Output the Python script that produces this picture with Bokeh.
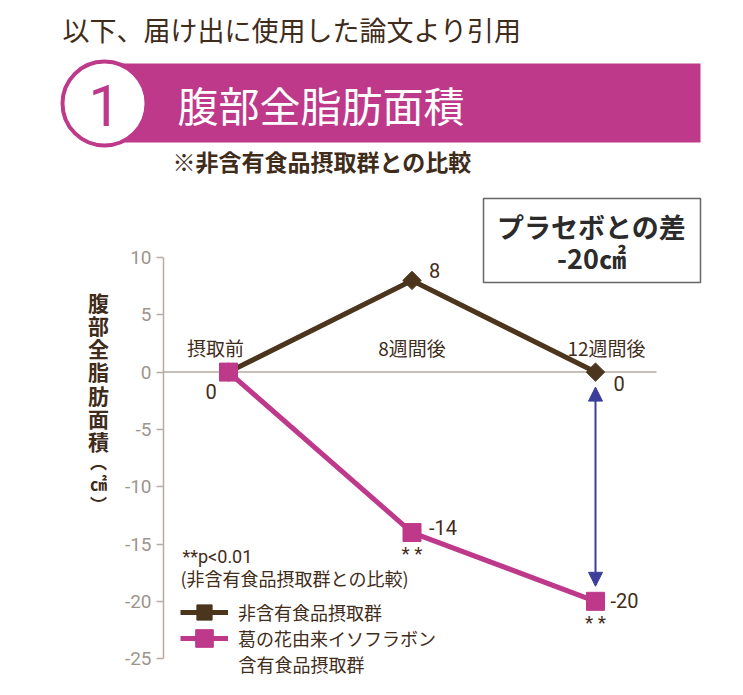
import numpy as np
from bokeh.plotting import figure
from bokeh.models import (Range1d, LinearAxis, FixedTicker, Label, Legend, LegendItem,
                          Arrow, NormalHead, BoxAnnotation, ColumnDataSource)
from bokeh.core.properties import value
from bokeh.embed import file_html
from bokeh.resources import INLINE

# ---------------- data ----------------
categories = ["摂取前", "8週間後", "12週間後"]
placebo = [0, 8, 0]            # 非含有食品摂取群
kudzu = [0, -14, -20]          # 葛の花由来イソフラボン含有食品摂取群
significance = ["", "**", "**"]
series_names = ["非含有食品摂取群", "葛の花由来イソフラボン"]
series2_line2 = "含有食品摂取群"
y_ticks = [10, 5, 0, -5, -10, -15, -20, -25]
y_axis_title = ["腹", "部", "全", "脂", "肪", "面", "積"]
y_axis_unit = ["︵", "㎠", "︶"]
header_note = "以下、届け出に使用した論文より引用"
section_no = "1"
section_title = "腹部全脂肪面積"
section_sub = "※非含有食品摂取群との比較"
p_note = ["**p<0.01", "(非含有食品摂取群との比較)"]
box_title = "プラセボとの差"

# ---------------- styles ----------------
BROWN = "#4b351c"
MAGENTA = "#be398a"
TEXT = "#3f2c1a"
AXIS = "#b6aba0"
TICK = "#9e958c"
BLUE = "#3d3e9a"
JP = value("Noto Sans CJK JP")
NUM = value("Roboto")

W, H = 735, 687
X0_IMG = 228      # pixel x of first category
X_STEP = 183.5    # px per category
ZERO_IMG = 371.6  # pixel y of value 0
Y_STEP = 11.46    # px per unit


def xd(px):
    return (px - X0_IMG) / X_STEP


def yd(py):
    return (ZERO_IMG - py) / Y_STEP


p = figure(width=W, height=H, x_range=Range1d(xd(0), xd(W)), y_range=Range1d(yd(H), yd(0)),
           output_backend="svg", toolbar_location=None, min_border=0,
           x_axis_location=None, y_axis_location=None)
p.outline_line_color = None
p.xgrid.visible = False
p.ygrid.visible = False
p.extra_x_ranges = {"px": Range1d(0, W)}
p.extra_y_ranges = {"py": Range1d(H, 0)}
hp = dict(x_range_name="px", y_range_name="py")

# ---------------- header ----------------
p.text(x=[62], y=[29], text=[header_note], text_font=JP, text_font_size="27px",
       text_color=TEXT, text_baseline="middle", text_align="left", **hp)
p.quad(left=[104], right=[700], top=[63], bottom=[142], fill_color=MAGENTA, line_color=None, **hp)
p.ellipse(x=[104], y=[103], width=[84], height=[84], fill_color="white",
          line_color=MAGENTA, line_width=4, **hp)
p.text(x=[104], y=[105], text=[section_no], text_font=NUM, text_font_size="57px",
       text_color=MAGENTA, text_baseline="middle", text_align="center", **hp)
p.text(x=[177], y=[103], text=[section_title], text_font=JP, text_font_size="41px",
       text_color="white", text_baseline="middle", text_align="left", **hp)
p.text(x=[172], y=[160], text=[section_sub], text_font=JP, text_font_size="23px",
       text_font_style="bold", text_color=TEXT, text_baseline="middle", text_align="left", **hp)

# ---------------- chart ----------------
ax = LinearAxis(fixed_location=xd(163), bounds=(min(y_ticks), max(y_ticks)),
                ticker=FixedTicker(ticks=y_ticks),
                major_label_overrides={t: str(t) for t in y_ticks},
                major_tick_out=7, major_tick_in=0, minor_tick_out=0, minor_tick_in=0,
                axis_line_color=AXIS, axis_line_width=1.5,
                major_tick_line_color=AXIS, major_tick_line_width=1.5,
                major_label_text_color=TICK, major_label_text_font="Roboto",
                major_label_text_font_size="19px", major_label_standoff=5)
p.add_layout(ax, "left")

# zero reference line
p.segment(x0=[xd(163)], x1=[xd(656)], y0=[0], y1=[0], line_color=AXIS, line_width=1.5)

xs = list(range(len(categories)))

r1l = p.line(xs, placebo, line_width=5, line_color=BROWN)
r1s = p.scatter(xs, placebo, marker="square", angle=np.pi / 4, size=13,
                fill_color=BROWN, line_color=BROWN)
r2l = p.line(xs, kudzu, line_width=5, line_color=MAGENTA)
r2s = p.scatter(xs, kudzu, marker="square", size=18, fill_color=MAGENTA, line_color=MAGENTA)

# category labels
cat_src = ColumnDataSource(dict(x=xs, y=[0] * len(xs), text=categories, dx=[-13, 0, 11]))
p.text(x="x", y="y", text="text", x_offset="dx", y_offset=-25, source=cat_src,
       text_font=JP, text_font_size="19px", text_color=TEXT,
       text_align="center", text_baseline="middle")

# value labels
lx, ly, lt, ldx, ldy = [], [], [], [], []
for i, v in enumerate(kudzu):
    lx.append(i); ly.append(v); lt.append(str(v))
    ldx.append([-23, 17, 15][i]); ldy.append([19, -5, -1][i])
for i, v in enumerate(placebo):
    if i == 0:
        continue
    lx.append(i); ly.append(v); lt.append(str(v))
    ldx.append([0, 17, 18][i]); ldy.append([0, -10, 11][i])
val_src = ColumnDataSource(dict(x=lx, y=ly, text=lt, dx=ldx, dy=ldy))
p.text(x="x", y="y", text="text", x_offset="dx", y_offset="dy", source=val_src,
       text_font=NUM, text_font_size="20px", text_color=TEXT,
       text_align="left", text_baseline="middle")

# significance marks
sx = [i for i, s in enumerate(significance) if s]
sy = [kudzu[i] for i in sx]
st = [" ".join(significance[i]) for i in sx]
p.text(x=sx, y=sy, text=st, x_offset=0, y_offset=21, text_font=NUM, text_font_size="19px",
       text_color=TEXT, text_align="center", text_baseline="middle")

# difference arrow
inset = 15 / Y_STEP
last = len(categories) - 1
p.add_layout(Arrow(start=NormalHead(size=14, fill_color=BLUE, line_color=BLUE),
                   end=NormalHead(size=14, fill_color=BLUE, line_color=BLUE),
                   x_start=last, y_start=placebo[last] - inset,
                   x_end=last, y_end=kudzu[last] + inset,
                   line_color=BLUE, line_width=2))

# difference box
p.add_layout(BoxAnnotation(left=xd(483), right=xd(700), top=yd(198), bottom=yd(282),
                           fill_color="white", fill_alpha=1, line_color="#666666",
                           line_width=1.5, line_alpha=1))
diff = kudzu[last] - placebo[last]
p.add_layout(Label(x=xd(591), y=yd(226), text=box_title, text_font="Noto Sans CJK JP",
                   text_font_size="27px", text_font_style="bold", text_color="#2b2b2b",
                   text_align="center", text_baseline="middle"))
p.add_layout(Label(x=xd(591), y=yd(257), text=f"{diff}㎠", text_font="Noto Sans CJK JP",
                   text_font_size="27px", text_font_style="bold", text_color="#2b2b2b",
                   text_align="center", text_baseline="middle"))

# y-axis title (vertical, upright characters)
p.add_layout(Label(x=xd(98), y=yd(371), text="\n".join(y_axis_title), text_font="Noto Sans CJK JP",
                   text_font_size="21px", text_font_style="bold", text_color=TEXT,
                   text_align="center", text_baseline="middle", text_line_height=0.77))
p.add_layout(Label(x=xd(98), y=yd(482), text="\n".join(y_axis_unit), text_font="Noto Sans CJK JP",
                   text_font_size="17px", text_font_style="bold", text_color=TEXT,
                   text_align="center", text_baseline="middle", text_line_height=0.85))

# p-value note
p.add_layout(Label(x=xd(182), y=yd(556), text=p_note[0], text_font="Roboto",
                   text_font_size="18px", text_color=TEXT, text_align="left", text_baseline="middle"))
p.add_layout(Label(x=xd(180), y=yd(577), text=p_note[1], text_font="Noto Sans CJK JP",
                   text_font_size="18px", text_color=TEXT, text_align="left", text_baseline="middle"))

# legend (one entry per box so that the rows sit as tightly as in the original)
leg_common = dict(orientation="vertical", glyph_width=48, padding=0, margin=0,
                  border_line_color=None, background_fill_alpha=0, label_standoff=10,
                  label_text_font="Noto Sans CJK JP", label_text_font_size="18px",
                  label_text_color=TEXT, label_height=20)
leg1 = Legend(items=[LegendItem(label=series_names[0], renderers=[r1l, r1s])],
              location=(180, H - (612 + 19)), glyph_height=38, **leg_common)
leg2 = Legend(items=[LegendItem(label=series_names[1], renderers=[r2l, r2s])],
              location=(180, H - (638 + 22)), glyph_height=44, **leg_common)
p.add_layout(leg1)
p.add_layout(leg2)
p.add_layout(Label(x=xd(238), y=yd(663), text=series2_line2, text_font="Noto Sans CJK JP",
                   text_font_size="18px", text_color=TEXT, text_align="left", text_baseline="middle"))

open("out.html", "w").write(file_html(p, INLINE))
